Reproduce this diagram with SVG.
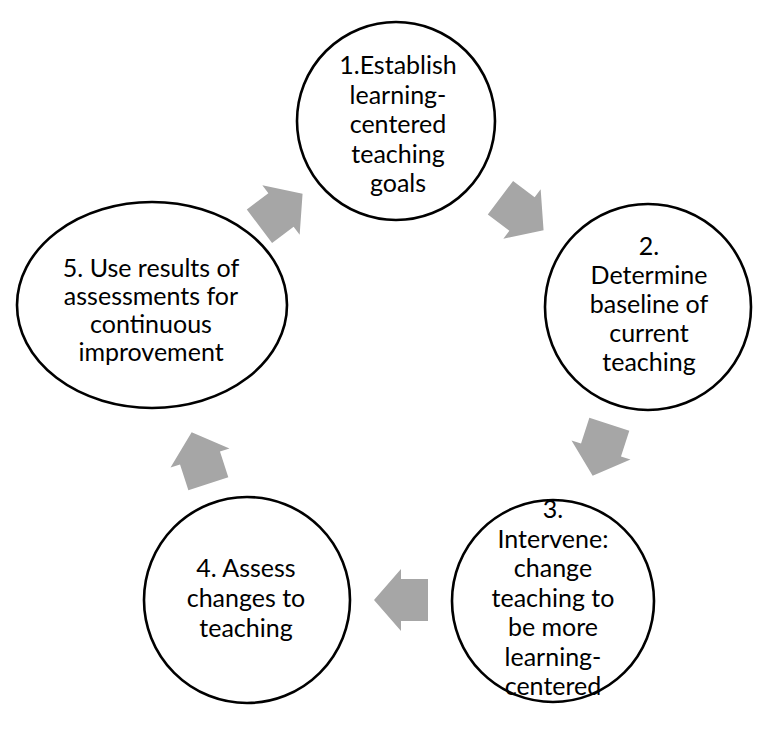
<svg xmlns="http://www.w3.org/2000/svg" width="768" height="731" viewBox="0 0 768 731">
  <style>
    .node { fill: #ffffff; stroke: #000000; stroke-width: 2.6; }
    .lbl { font-family: Lato, "Liberation Sans", sans-serif; font-size: 25px; fill: #000000; text-anchor: middle; }
    .arrow { fill: #a6a6a6; stroke: none; }
  </style>
  <defs>
    <path id="blockArrow" d="M -27 -21 L 0 -21 L 0 -31 L 27 0 L 0 31 L 0 21 L -27 21 Z"/>
  </defs>
  <rect width="768" height="731" fill="#ffffff"/>

  <g id="connectors">
    <use href="#blockArrow" class="arrow" transform="translate(281 210) rotate(-37)"/>
    <use href="#blockArrow" class="arrow" transform="translate(522 214) rotate(37)"/>
    <use href="#blockArrow" class="arrow" transform="translate(601 450) rotate(108)"/>
    <use href="#blockArrow" class="arrow" transform="translate(401 600) rotate(180)"/>
    <use href="#blockArrow" class="arrow" transform="translate(200 458) rotate(-108)"/>
  </g>

  <g id="node1">
    <circle class="node" cx="396" cy="121" r="99"/>
    <text class="lbl" x="398" y="74">1.Establish</text>
    <text class="lbl" x="398" y="103.5">learning-</text>
    <text class="lbl" x="398" y="133">centered</text>
    <text class="lbl" x="398" y="162.5">teaching</text>
    <text class="lbl" x="398" y="192">goals</text>
  </g>

  <g id="node2">
    <circle class="node" cx="648" cy="307" r="103"/>
    <text class="lbl" x="649" y="255">2.</text>
    <text class="lbl" x="649" y="284">Determine</text>
    <text class="lbl" x="649" y="313">baseline of</text>
    <text class="lbl" x="649" y="342">current</text>
    <text class="lbl" x="649" y="371">teaching</text>
  </g>

  <g id="node3">
    <circle class="node" cx="553" cy="601" r="101"/>
    <text class="lbl" x="553" y="518">3.</text>
    <text class="lbl" x="553" y="547.5">Intervene:</text>
    <text class="lbl" x="553" y="577">change</text>
    <text class="lbl" x="553" y="606.5">teaching to</text>
    <text class="lbl" x="553" y="636">be more</text>
    <text class="lbl" x="553" y="665.5">learning-</text>
    <text class="lbl" x="553" y="695">centered</text>
  </g>

  <g id="node4">
    <circle class="node" cx="247" cy="600" r="103"/>
    <text class="lbl" x="246" y="577">4. Assess</text>
    <text class="lbl" x="246" y="607">changes to</text>
    <text class="lbl" x="246" y="637">teaching</text>
  </g>

  <g id="node5">
    <ellipse class="node" cx="152" cy="305" rx="135" ry="103"/>
    <text class="lbl" x="151" y="277">5. Use results of</text>
    <text class="lbl" x="151" y="305">assessments for</text>
    <text class="lbl" x="151" y="333">continuous</text>
    <text class="lbl" x="151" y="361">improvement</text>
  </g>
</svg>
